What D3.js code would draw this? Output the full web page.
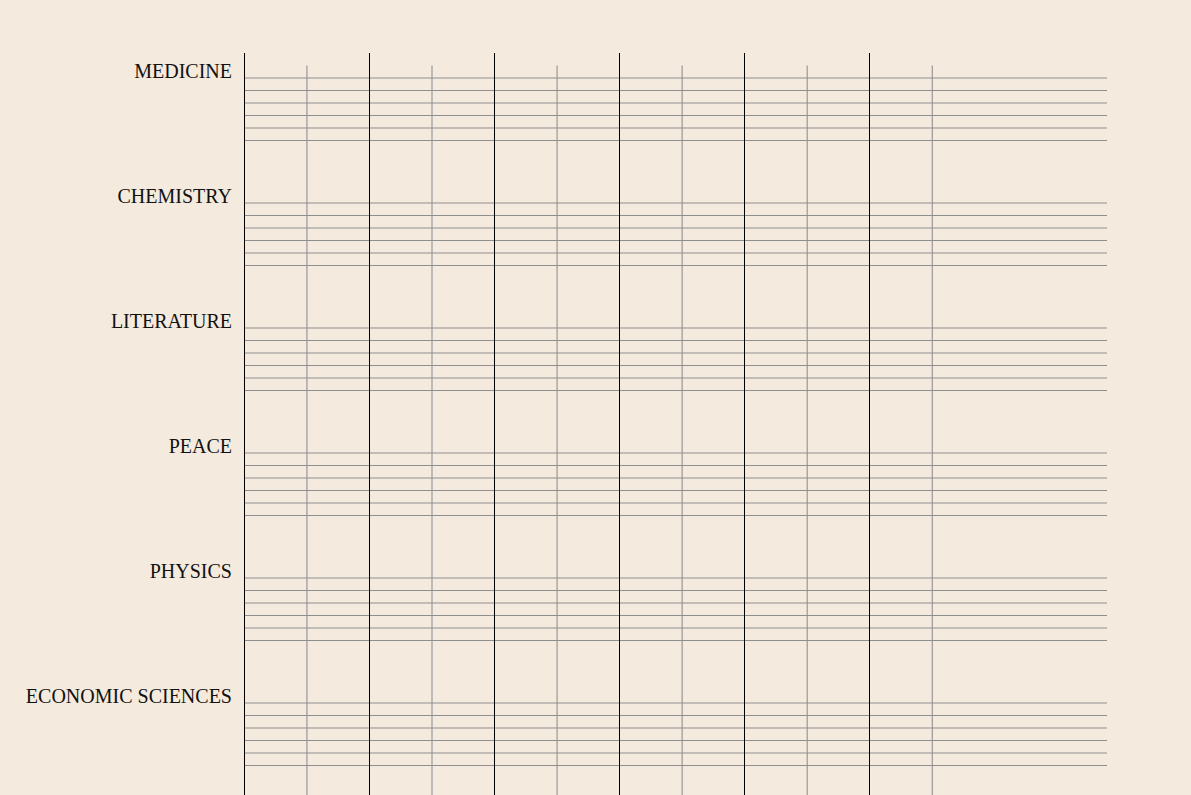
<!DOCTYPE html>
<html>
<head>
<meta charset="utf-8">
<script src="https://cdn.jsdelivr.net/npm/d3@7"></script>
<style>
  html, body { margin: 0; padding: 0; background: #f4eadd; overflow: hidden; }
  text { font-family: "Liberation Serif", "Times New Roman", serif; }
</style>
</head>
<body>
<div id="chart"></div>
<script>
// prize categories, one band each
var categories = ["MEDICINE", "CHEMISTRY", "LITERATURE", "PEACE", "PHYSICS", "ECONOMIC SCIENCES"];
// rows drawn inside each band
var rows = [0, 1, 2, 3, 4, 5];
// decade ticks: black every 20 years, grey in between
var majorYears = [1900, 1920, 1940, 1960, 1980, 2000];
var minorYears = [1910, 1930, 1950, 1970, 1990, 2010];
var yearDomain = [1900, 2038];

var svgWidth = 1191;
var svgHeight = 830;

var margin = {
  top: 78,
  right: 84,
  bottom: 0,
  left: 244
};

var svg = d3.select("#chart")
  .append("svg")
  .attr("width", svgWidth)
  .attr("height", svgHeight);

var xScale = d3.scaleLinear()
  .domain(yearDomain)
  .range([margin.left, svgWidth - margin.right]);

var bandScale = d3.scalePoint()
  .domain(categories)
  .range([margin.top, margin.top + 125 * (categories.length - 1)]);

var rowScale = d3.scaleLinear()
  .domain([0, 1])
  .range([0, 12.5]);

// minor verticals (grey)
svg.append("g")
  .selectAll("line")
  .data(minorYears)
  .enter()
  .append("line")
  .attr("x1", d => xScale(d) + 0.4)
  .attr("x2", d => xScale(d) + 0.4)
  .attr("y1", margin.top - 12.5)
  .attr("y2", svgHeight)
  .attr("stroke", "#999")
  .attr("stroke-width", 1.2);

// horizontal rows per category
var bands = svg.append("g")
  .selectAll("g")
  .data(categories)
  .enter()
  .append("g")
  .attr("transform", d => `translate(0, ${bandScale(d)})`);

bands.selectAll("line")
  .data(rows)
  .enter()
  .append("line")
  .attr("x1", xScale.range()[0])
  .attr("x2", xScale.range()[1])
  .attr("y1", d => rowScale(d))
  .attr("y2", d => rowScale(d))
  .attr("stroke", "#8f8f8f")
  .attr("stroke-width", 1);

bands.append("text")
  .attr("x", margin.left - 12)
  .attr("y", 0)
  .attr("text-anchor", "end")
  .attr("font-size", "20px")
  .attr("fill", "#111")
  .text(d => d);

// major verticals (black)
svg.append("g")
  .selectAll("line")
  .data(majorYears)
  .enter()
  .append("line")
  .attr("x1", d => Math.round(xScale(d)) + 0.5)
  .attr("x2", d => Math.round(xScale(d)) + 0.5)
  .attr("y1", margin.top - 25)
  .attr("y2", svgHeight)
  .attr("stroke", "#000")
  .attr("stroke-width", 1);
</script>
</body>
</html>
